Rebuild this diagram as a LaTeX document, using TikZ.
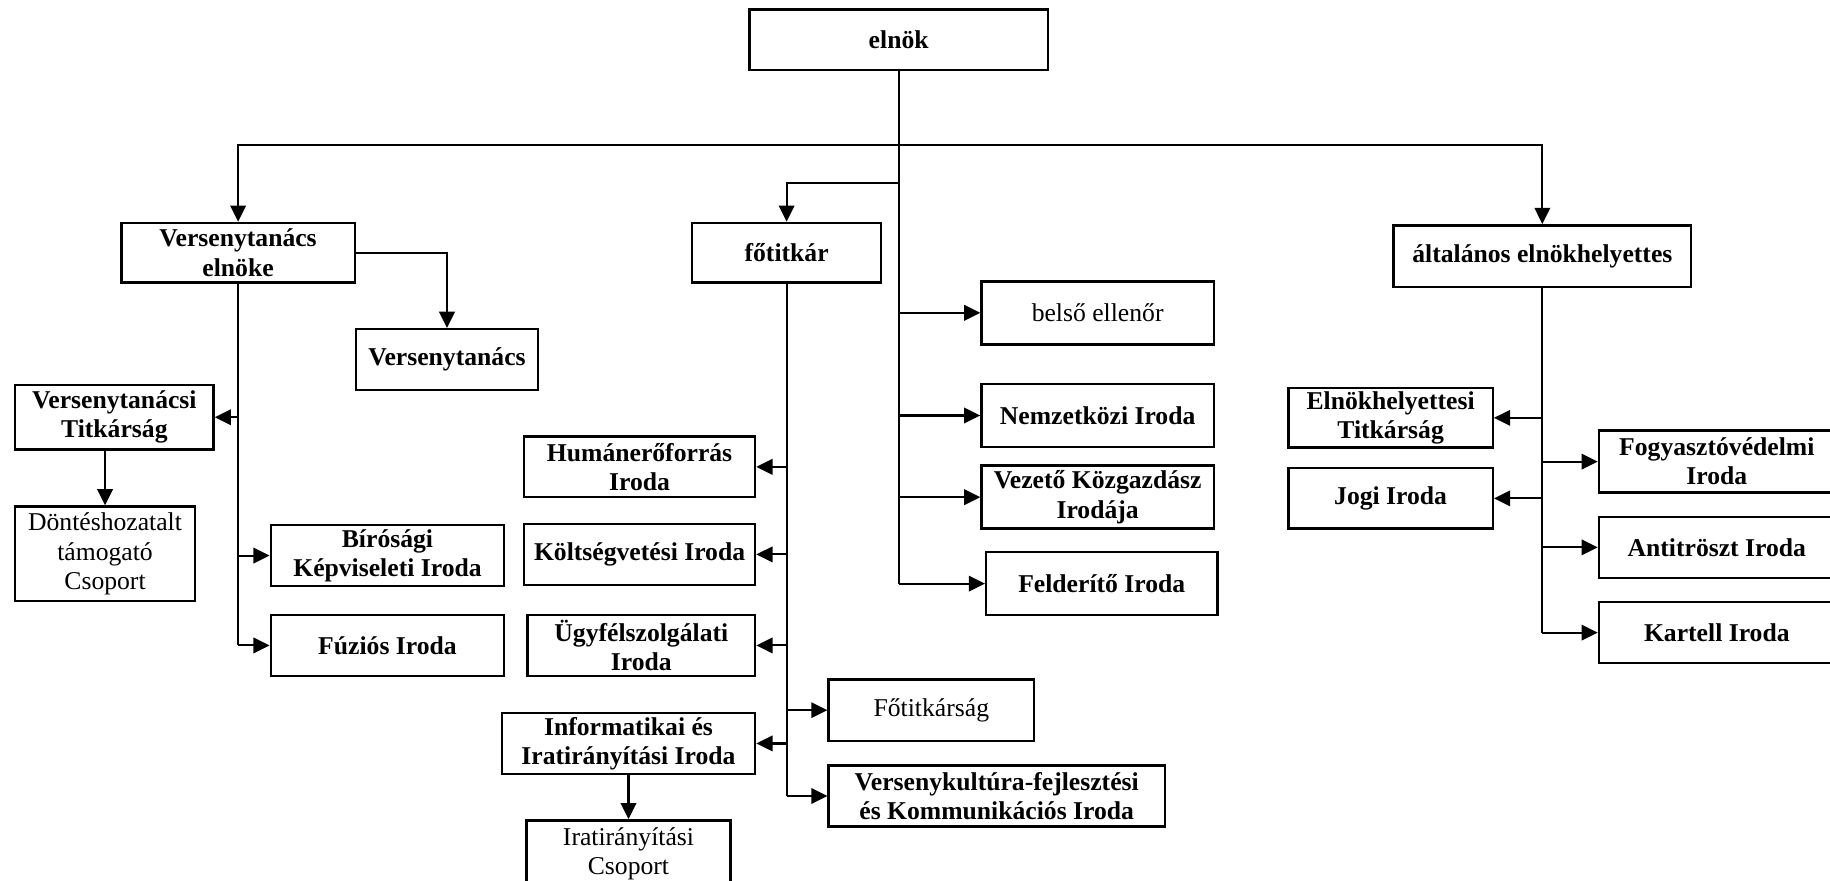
\documentclass[tikz,border=0pt]{standalone}
\usepackage{fontspec}
\setmainfont{Liberation Serif}
\usetikzlibrary{arrows.meta}
\newdimen\gu
\gu=0.011671cm
\tikzset{
  unit/.style={
    draw=black,
    line width=0.7pt,
    align=center,
    inner sep=1pt,
    font=\fontsize{7.3}{8.3}\selectfont\bfseries
  },
  unit-plain/.style={unit, font=\fontsize{7.3}{8.3}\selectfont},
  wh/.style 2 args={minimum width=#1\gu, minimum height=#2\gu},
  link/.style={line width=0.6pt},
  link-arrow/.style={link, ->, >={Triangle[length=4.6pt,width=4.4pt]}}
}

\begin{document}
\begin{tikzpicture}[x=0.011671cm, y=-0.011671cm]
  \useasboundingbox (0,0) rectangle (1568,754);
  \clip (0,0) rectangle (1568,754);

  % Top of the chart
  \node[unit, wh={256}{52}] (elnok) at (770,34) {elnök};
  \coordinate (hub) at (770,124);
  \coordinate (fhub) at (770,157);

  % Versenytanács branch
  \node[unit, wh={200}{51}] (vtelnok) at (204,216.5) {Versenytanács\\elnöke};
  \node[unit, wh={156}{52}] (vt) at (383,308) {Versenytanács};
  \node[unit, wh={170}{55}] (vtt) at (98,357.5) {Versenytanácsi\\Titkárság};
  \node[unit-plain, wh={154}{81}] (dontes) at (90,474.5) {Döntéshozatalt\\támogató\\Csoport};
  \node[unit, wh={200}{52}] (birosagi) at (332,476) {Bírósági\\Képviseleti Iroda};
  \node[unit, wh={200}{52}] (fuzios) at (332,553) {Fúziós Iroda};

  % Főtitkár branch
  \node[unit, wh={162}{51}] (fotitkar) at (674,216.5) {főtitkár};
  \node[unit, wh={198}{52}] (human) at (548,400) {Humánerőforrás\\Iroda};
  \node[unit, wh={198}{52}] (koltseg) at (548,475) {Költségvetési Iroda};
  \node[unit, wh={195}{52}] (ugyfel) at (549.5,553) {Ügyfélszolgálati\\Iroda};
  \node[unit-plain, wh={176}{53}] (fotitkarsag) at (798,608.5) {Főtitkárság};
  \node[unit, wh={217}{52}] (info) at (538.5,637) {Informatikai és\\Iratirányítási Iroda};
  \node[unit, wh={288}{52}] (verskult) at (854,682) {Versenykultúra-fejlesztési\\és Kommunikációs Iroda};
  \node[unit-plain, wh={175}{57}] (iratcs) at (538.5,731.5) {Iratirányítási\\Csoport};

  % Directly under the elnök
  \node[unit-plain, wh={199}{54}] (belso) at (940.5,268) {belső ellenőr};
  \node[unit, wh={199}{54}] (nemzetkozi) at (940.5,356) {Nemzetközi Iroda};
  \node[unit, wh={199}{54}] (vezeto) at (940.5,426) {Vezető Közgazdász\\Irodája};
  \node[unit, wh={198}{54}] (felderito) at (944,500) {Felderítő Iroda};

  % Elnökhelyettes branch
  \node[unit, wh={255}{53}] (elnh) at (1321.5,219.5) {általános elnökhelyettes};
  \node[unit, wh={175}{50}] (elntitk) at (1191.5,358) {Elnökhelyettesi\\Titkárság};
  \node[unit, wh={175}{52}] (jogi) at (1191.5,427) {Jogi Iroda};
  \node[unit, wh={202}{53}] (fogyaszto) at (1471,395.5) {Fogyasztóvédelmi\\Iroda};
  \node[unit, wh={202}{52}] (antitroszt) at (1471,469) {Antitröszt Iroda};
  \node[unit, wh={202}{52}] (kartell) at (1471,542) {Kartell Iroda};

  % Trunk of the elnök
  \draw[link] (elnok.south) -- (elnok.south |- felderito);
  \draw[link-arrow] (hub) -| (vtelnok);
  \draw[link-arrow] (hub) -| (elnh);
  \draw[link-arrow] (fhub) -| (fotitkar);
  \foreach \n in {belso, nemzetkozi, vezeto, felderito}
    \draw[link-arrow] (elnok.south |- \n) -- (\n);

  % Versenytanács elnöke and its units
  \draw[link-arrow] (vtelnok) -| (vt);
  \draw[link] (vtelnok.south) -- (vtelnok.south |- fuzios);
  \draw[link-arrow] (vtelnok.south |- vtt) -- (vtt);
  \foreach \n in {birosagi, fuzios}
    \draw[link-arrow] (vtelnok.south |- \n) -- (\n);
  \draw[link-arrow] (vtt.south -| dontes) -- (dontes);

  % Főtitkár and its units
  \draw[link] (fotitkar.south) -- (fotitkar.south |- verskult);
  \foreach \n in {human, koltseg, ugyfel, info, fotitkarsag, verskult}
    \draw[link-arrow] (fotitkar.south |- \n) -- (\n);
  \draw[link-arrow] (info) -- (iratcs);

  % Elnökhelyettes and its units
  \draw[link] (elnh.south) -- (elnh.south |- kartell);
  \foreach \n in {elntitk, jogi, fogyaszto, antitroszt, kartell}
    \draw[link-arrow] (elnh.south |- \n) -- (\n);

\end{tikzpicture}
\end{document}
